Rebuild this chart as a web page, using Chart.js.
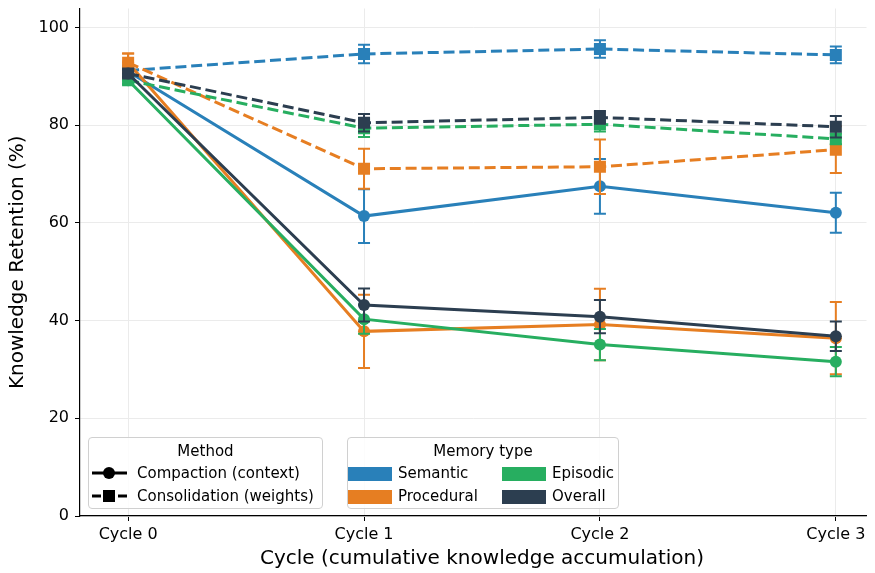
<!DOCTYPE html>
<html>
<head>
<meta charset="utf-8">
<script src="https://cdn.jsdelivr.net/npm/chart.js@4/dist/chart.umd.min.js"></script>
<style>
  html, body { margin: 0; padding: 0; background: #fff; }
  #wrap { position: relative; width: 875px; height: 573px; font-family: 'DejaVu Sans', sans-serif; }
  #chart { position: absolute; left: 0; top: 0; }
  #xtitle { position: absolute; left: 232px; width: 500px; top: 545px; text-align: center; font-size: 20px; line-height: 24px; white-space: nowrap; }
  .lg { position: absolute; border: 1px solid #d0d0d0; border-radius: 4px; background: rgba(255,255,255,0.85); font-size: 15px; color: #000; box-sizing: border-box; }
  .lg .ttl { position: absolute; left: 0; right: 0; top: 4px; text-align: center; }
  .lg .item { position: absolute; white-space: nowrap; line-height: 18px; }
  .lg svg { position: absolute; }
  .patch { position: absolute; width: 44px; height: 14px; }
</style>
</head>
<body>
<div id="wrap">
  <canvas id="chart" width="875" height="573"></canvas>
  <div id="xtitle">Cycle (cumulative knowledge accumulation)</div>

  <div class="lg" style="left:88px; top:437px; width:235px; height:72px;">
    <div class="ttl">Method</div>
    <svg style="left:3px; top:27px;" width="36" height="16">
      <line x1="0" y1="8" x2="35" y2="8" stroke="#000" stroke-width="3"/>
      <circle cx="17" cy="8" r="6" fill="#000"/>
    </svg>
    <div class="item" style="left:48px; top:26px;">Compaction (context)</div>
    <svg style="left:3px; top:50px;" width="36" height="16">
      <line x1="0" y1="8" x2="9" y2="8" stroke="#000" stroke-width="3"/>
      <line x1="26" y1="8" x2="35" y2="8" stroke="#000" stroke-width="3"/>
      <rect x="11" y="2" width="12" height="12" fill="#000"/>
    </svg>
    <div class="item" style="left:48px; top:49px;">Consolidation (weights)</div>
  </div>

  <div class="lg" style="left:347px; top:437px; width:272px; height:72px;">
    <div class="ttl">Memory type</div>
    <div class="patch" style="left:0px; top:29px; background:#2980b9;"></div>
    <div class="item" style="left:50px; top:26px;">Semantic</div>
    <div class="patch" style="left:0px; top:52px; background:#e67e22;"></div>
    <div class="item" style="left:50px; top:49px;">Procedural</div>
    <div class="patch" style="left:154px; top:29px; background:#27ae60;"></div>
    <div class="item" style="left:204px; top:26px;">Episodic</div>
    <div class="patch" style="left:154px; top:52px; background:#2c3e50;"></div>
    <div class="item" style="left:204px; top:49px;">Overall</div>
  </div>
</div>

<script>
// tick labels
const cycles = ['Cycle 0', 'Cycle 1', 'Cycle 2', 'Cycle 3'];

// retention (%) per cycle, mean and error
const semanticCompaction = [91.0, 61.4, 67.5, 62.1];
const semanticCompactionErr = [0.8, 5.5, 5.6, 4.1];
const semanticConsolidation = [91.2, 94.6, 95.6, 94.4];
const semanticConsolidationErr = [0.8, 1.9, 1.8, 1.7];

const proceduralCompaction = [92.8, 37.8, 39.2, 36.4];
const proceduralCompactionErr = [1.9, 7.5, 7.3, 7.4];
const proceduralConsolidation = [92.8, 71.1, 71.5, 75.0];
const proceduralConsolidationErr = [1.9, 4.1, 5.6, 4.8];

const episodicCompaction = [89.2, 40.3, 35.1, 31.6];
const episodicCompactionErr = [0.8, 3.0, 3.2, 3.0];
const episodicConsolidation = [89.2, 79.4, 80.2, 77.2];
const episodicConsolidationErr = [0.8, 1.8, 1.5, 1.1];

const overallCompaction = [90.6, 43.2, 40.8, 36.8];
const overallCompactionErr = [0.8, 3.4, 3.4, 3.0];
const overallConsolidation = [90.6, 80.5, 81.6, 79.7];
const overallConsolidationErr = [0.8, 1.8, 1.3, 2.2];

const COLORS = { semantic: '#2980b9', procedural: '#e67e22', episodic: '#27ae60', overall: '#2c3e50' };

const toPts = arr => arr.map((v, i) => ({ x: i, y: v }));

const series = [
  ['Semantic', 'semantic', semanticCompaction, semanticCompactionErr, false],
  ['Semantic', 'semantic', semanticConsolidation, semanticConsolidationErr, true],
  ['Procedural', 'procedural', proceduralCompaction, proceduralCompactionErr, false],
  ['Procedural', 'procedural', proceduralConsolidation, proceduralConsolidationErr, true],
  ['Episodic', 'episodic', episodicCompaction, episodicCompactionErr, false],
  ['Episodic', 'episodic', episodicConsolidation, episodicConsolidationErr, true],
  ['Overall', 'overall', overallCompaction, overallCompactionErr, false],
  ['Overall', 'overall', overallConsolidation, overallConsolidationErr, true]
];

const datasets = series.map(([label, key, vals, errs, dashed], i) => ({
  label: label + (dashed ? ' (consolidation)' : ' (compaction)'),
  data: toPts(vals),
  errors: errs,
  borderColor: COLORS[key],
  backgroundColor: COLORS[key],
  borderWidth: 3,
  borderDash: dashed ? [11, 4.8] : [],
  pointStyle: dashed ? 'rect' : 'circle',
  pointRadius: dashed ? 8.5 : 6,
  pointBorderWidth: 0,
  tension: 0,
  order: series.length - i   // later series on top, like matplotlib
}));

// error bars drawn just under each dataset
const errorBars = {
  id: 'errorBars',
  beforeDatasetDraw(chart, args) {
    const ds = chart.data.datasets[args.index];
    if (!ds.errors) return;
    const y = chart.scales.y;
    const ctx = chart.ctx;
    ctx.save();
    ctx.strokeStyle = ds.borderColor;
    ctx.lineWidth = 2;
    ctx.setLineDash([]);
    args.meta.data.forEach((pt, i) => {
      const v = ds.data[i].y, e = ds.errors[i];
      const top = y.getPixelForValue(v + e), bot = y.getPixelForValue(v - e);
      ctx.beginPath();
      ctx.moveTo(pt.x, top); ctx.lineTo(pt.x, bot);
      ctx.moveTo(pt.x - 6, top); ctx.lineTo(pt.x + 6, top);
      ctx.moveTo(pt.x - 6, bot); ctx.lineTo(pt.x + 6, bot);
      ctx.stroke();
    });
    ctx.restore();
  }
};

Chart.defaults.font.family = "'DejaVu Sans', sans-serif";
Chart.defaults.color = '#000';

new Chart(document.getElementById('chart'), {
  type: 'line',
  data: { datasets },
  plugins: [errorBars],
  options: {
    responsive: false,
    animation: false,
    layout: { padding: { top: 5, right: 0, left: 0, bottom: 0 } },
    plugins: { legend: { display: false }, tooltip: { enabled: false } },
    scales: {
      x: {
        type: 'linear',
        min: -0.204,
        max: 3.13,
        afterFit: s => { s.height = 57; },
        ticks: {
          stepSize: 1,
          includeBounds: false,
          autoSkip: false,
          maxRotation: 0,
          font: { size: 16 },
          padding: 4,
          callback: v => (Number.isInteger(v) && cycles[v]) ? cycles[v] : ''
        },
        grid: { color: '#ebebeb', tickColor: '#000', tickLength: 5 },
        border: { color: '#000', width: 1.2 },
        title: { display: false }
      },
      y: {
        min: 0,
        max: 103.9,
        afterFit: s => { s.width = 80; s.paddingTop = 0; s.paddingBottom = 0; },
        ticks: { stepSize: 20, includeBounds: false, font: { size: 16 }, padding: 6 },
        grid: { color: '#ebebeb', tickColor: '#000', tickLength: 5 },
        border: { color: '#000', width: 1.2 },
        title: { display: true, text: 'Knowledge Retention (%)', font: { size: 20 }, padding: { top: 6, bottom: 0 } }
      }
    }
  }
});
</script>
</body>
</html>
